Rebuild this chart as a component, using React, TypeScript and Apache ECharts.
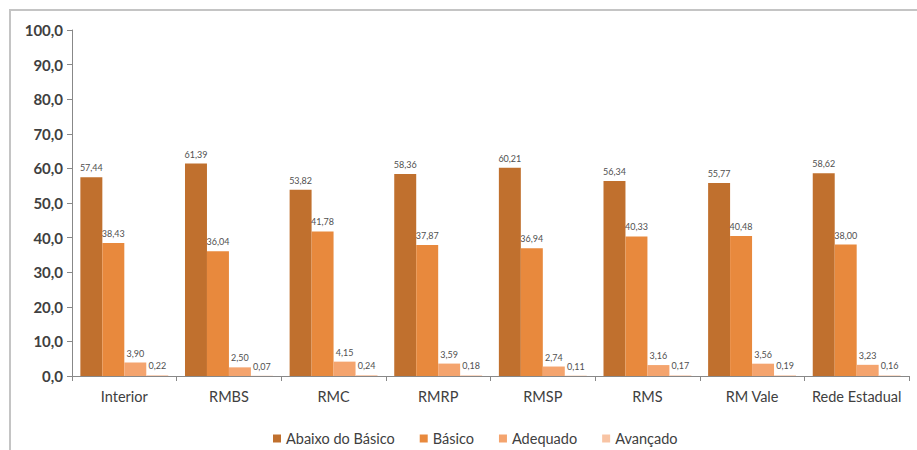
import React, { useEffect, useRef } from "react";
import * as echarts from "echarts";

const categories = ["Interior", "RMBS", "RMC", "RMRP", "RMSP", "RMS", "RM Vale", "Rede Estadual"];
const seriesNames = ["Abaixo do Básico", "Básico", "Adequado", "Avançado"];
const abaixo = [57.44, 61.39, 53.82, 58.36, 60.21, 56.34, 55.77, 58.62];
const basico = [38.43, 36.04, 41.78, 37.87, 36.94, 40.33, 40.48, 38.0];
const adequado = [3.9, 2.5, 4.15, 3.59, 2.74, 3.16, 3.56, 3.23];
const avancado = [0.22, 0.07, 0.24, 0.18, 0.11, 0.17, 0.19, 0.16];
const colors = ["#C0702E", "#E8893D", "#F4A46E", "#F8C4A4"];

const FONT = "Lato, 'Open Sans', sans-serif";

export default function App() {
  const ref = useRef<HTMLDivElement>(null);
  useEffect(() => {
    if (!ref.current) return;
    const chart = echarts.init(ref.current, null, { renderer: "svg" });
    const data = [abaixo, basico, adequado, avancado];
    chart.setOption({
      animation: false,
      textStyle: { fontFamily: FONT },
      graphic: [
        {
          type: "rect",
          shape: { x: 10, y: 10, width: 940, height: 480 },
          style: { fill: "none", stroke: "#c4c4c4", lineWidth: 2 },
          silent: true,
        },
      ],
      grid: { left: 72, right: 8, top: 30, bottom: 74, containLabel: false },
      legend: {
        left: 268,
        top: 426,
        itemWidth: 8,
        itemHeight: 8,
        itemGap: 25,
        icon: "rect",
        textStyle: { fontSize: 14.5, color: "#404040", fontFamily: FONT },
        data: seriesNames,
      },
      xAxis: {
        type: "category",
        data: categories,
        axisLine: { lineStyle: { color: "#888888", width: 1 } },
        axisTick: { show: true, interval: 0, alignWithLabel: false, length: 5, lineStyle: { color: "#888888" } },
        axisLabel: { interval: 0, fontSize: 14.5, color: "#404040", margin: 13, fontFamily: FONT },
      },
      yAxis: {
        type: "value",
        min: 0,
        max: 100,
        interval: 10,
        splitLine: { show: false },
        axisLine: { show: true, lineStyle: { color: "#888888", width: 1 } },
        axisTick: { show: true, length: 5, lineStyle: { color: "#888888" } },
        axisLabel: {
          fontSize: 15,
          color: "#404040",
          fontWeight: "bold",
          margin: 9,
          fontFamily: FONT,
          formatter: (v: number) => v.toFixed(1).replace(".", ","),
        },
      },
      series: seriesNames.map((name, i) => ({
        name,
        type: "bar",
        data: data[i],
        barGap: "0%",
        barCategoryGap: "16%",
        itemStyle: { color: colors[i] },
        label: {
          show: true,
          position: "top",
          distance: 5,
          fontSize: 9,
          color: "#505050",
          fontFamily: FONT,
          formatter: (p: any) => Number(p.value).toFixed(2).replace(".", ","),
        },
      })),
    });
    return () => chart.dispose();
  }, []);
  return <div ref={ref} style={{ width: 917, height: 450, position: "absolute", left: 0, top: 0 }} />;
}
